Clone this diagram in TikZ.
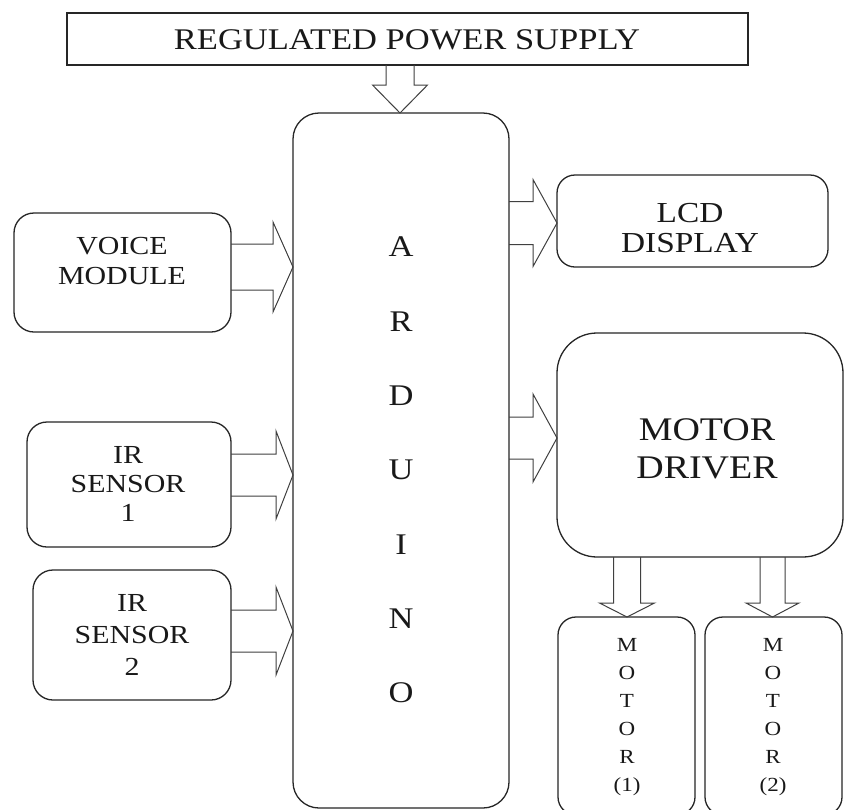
\documentclass[tikz,border=0pt]{standalone}
\usepackage{fontspec}
\setmainfont[FakeStretch=1.15]{Liberation Serif}
\usetikzlibrary{calc}
\tikzset{
 box/.style={draw=black!85, line width=1.3pt, rounded corners=#1, inner sep=0pt, outer sep=0pt},
 box/.default=20pt,
 txt/.style={text=black!90, align=center, inner sep=0pt},
 blk/.style={draw=black!75, line width=1pt, line join=miter},
}
\newcommand\blockarrowh[6]{\draw[blk] let \p1=(#1.east), \p2=(#2.west) in (\x1,-#3pt+#4pt) -- (\x2-#6pt,-#3pt+#4pt) -- (\x2-#6pt,-#3pt+#5pt) -- (\x2,-#3pt) -- (\x2-#6pt,-#3pt-#5pt) -- (\x2-#6pt,-#3pt-#4pt) -- (\x1,-#3pt-#4pt);}
\newcommand\blockarrowv[6]{\draw[blk] let \p1=(#1.south), \p2=(#2.north) in (#3pt-#4pt,\y1) -- (#3pt-#4pt,\y2+#6pt) -- (#3pt-#5pt,\y2+#6pt) -- (#3pt,\y2) -- (#3pt+#5pt,\y2+#6pt) -- (#3pt+#4pt,\y2+#6pt) -- (#3pt+#4pt,\y1);}
\begin{document}
\begin{tikzpicture}[x=1pt,y=-1pt]
\clip (0,0) rectangle (845,809);
\fill[white] (0,0) rectangle (845,809);
% boxes
\node[box=0pt, minimum width=681pt, minimum height=52pt] (psu) at (407.5,39) {};
\node[box=26pt, minimum width=216pt, minimum height=695pt] (ard) at (401,460.5) {};
\node[box, minimum width=217pt, minimum height=119pt] (voice) at (122.5,272.5) {};
\node[box, minimum width=204pt, minimum height=125pt] (ir1) at (129,484.5) {};
\node[box, minimum width=198pt, minimum height=130pt] (ir2) at (132,635) {};
\node[box=18pt, minimum width=271pt, minimum height=92pt] (lcd) at (692.5,221) {};
\node[box=40pt, minimum width=286pt, minimum height=224pt] (md) at (700,445) {};
\node[box=18pt, minimum width=137pt, minimum height=198pt] (m1) at (626.5,716) {};
\node[box=18pt, minimum width=137pt, minimum height=198pt] (m2) at (773.5,716) {};
% texts
\node[txt, font=\fontsize{30}{34}\selectfont] (psut) at (407,40) {REGULATED POWER SUPPLY};
\node[txt, font=\fontsize{30}{74.3}\selectfont] (ardt) at (401,470) {A\\R\\D\\U\\I\\N\\O};
\node[txt, font=\fontsize{26}{30}\selectfont] (voicet) at (122,261) {VOICE\\MODULE};
\node[txt, font=\fontsize{26}{29}\selectfont] (ir1t) at (128,484) {IR\\SENSOR\\1};
\node[txt, font=\fontsize{26}{32}\selectfont] (ir2t) at (132,635) {IR\\SENSOR\\2};
\node[txt, font=\fontsize{29}{30}\selectfont] (lcdt) at (690,228) {LCD\\DISPLAY};
\node[txt, font=\fontsize{33}{38}\selectfont] (mdt) at (707,449) {MOTOR\\DRIVER};
\node[txt, font=\fontsize{20}{28}\selectfont] (m1t) at (627,717) {M\\O\\T\\O\\R\\(1)};
\node[txt, font=\fontsize{20}{28}\selectfont] (m2t) at (773,717) {M\\O\\T\\O\\R\\(2)};
% block arrows
\blockarrowv{psu}{ard}{400}{14}{27.5}{28}
\blockarrowh{voice}{ard}{267}{23}{45}{20}
\blockarrowh{ir1}{ard}{475}{21}{44}{17}
\blockarrowh{ir2}{ard}{631}{21}{44}{17}
\blockarrowh{ard}{lcd}{223}{21.5}{43.5}{24}
\blockarrowh{ard}{md}{438}{21}{44}{24}
\blockarrowv{md}{m1}{627}{13.5}{27.5}{14}
\blockarrowv{md}{m2}{772.5}{12.5}{26.5}{14}
\end{tikzpicture}
\end{document}
